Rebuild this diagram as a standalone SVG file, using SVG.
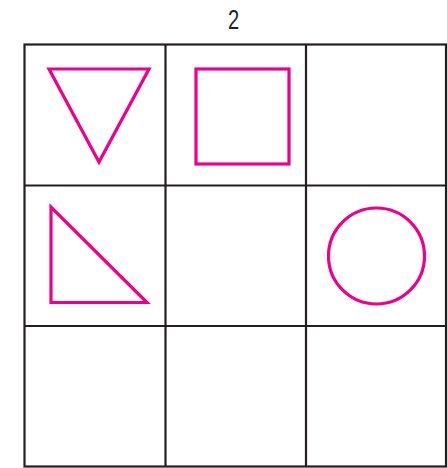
<svg xmlns="http://www.w3.org/2000/svg" width="447" height="468" viewBox="0 0 447 468">
<style>
.grid{fill:none;stroke:#231f20;stroke-width:2.2}
.shape{fill:none;stroke:#ec008c;stroke-width:3.2}
.lbl{font-family:"Liberation Sans",Arial,sans-serif;font-size:28px;fill:#231f20}
</style>
<rect width="447" height="468" fill="#fff"/>
<text class="lbl" text-anchor="middle" transform="translate(233.5,29) scale(0.72,1)">2</text>
<g id="grid">
<rect class="grid" x="24.5" y="44.5" width="421.5" height="422"/>
<line class="grid" x1="165.5" y1="44.5" x2="165.5" y2="466.5"/>
<line class="grid" x1="306" y1="44.5" x2="306" y2="466.5"/>
<line class="grid" x1="24.5" y1="185.5" x2="446" y2="185.5"/>
<line class="grid" x1="24.5" y1="326" x2="446" y2="326"/>
</g>
<g id="triangle-down"><polygon class="shape" points="49,69 149,69 99,162"/></g>
<g id="square"><rect class="shape" x="196" y="69" width="93" height="95"/></g>
<g id="right-triangle"><polygon class="shape" points="51,207 51,302.5 147,302.5"/></g>
<g id="circle"><circle class="shape" cx="376.5" cy="256" r="48"/></g>
</svg>
